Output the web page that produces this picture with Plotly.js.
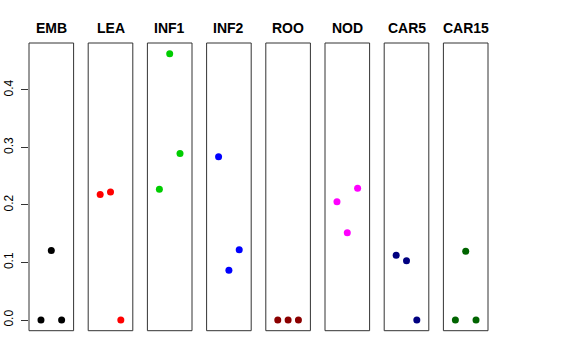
<!DOCTYPE html>
<html><head><meta charset="utf-8">
<script src="https://cdn.plot.ly/plotly-3.0.1.min.js"></script>
<style>html,body{margin:0;padding:0;background:#fff}#c{width:576px;height:360px}</style>
</head><body><div id="c"></div>
<script>
const categories = ["EMB","LEA","INF1","INF2","ROO","NOD","CAR5","CAR15"];
const colors = ["#000000","#FF0000","#00CD00","#0000FF","#8B0000","#FF00FF","#000080","#006400"];
const positions = [1,2,3];
const EMB  = [0, 0.121, 0];
const LEA  = [0.218, 0.2226, 0];
const INF1 = [0.2272, 0.463, 0.2893];
const INF2 = [0.284, 0.0864, 0.1223];
const ROO  = [0, 0, 0];
const NOD  = [0.2058, 0.1519, 0.229];
const CAR5 = [0.1125, 0.1032, 0];
const CAR15= [0, 0.1194, 0];
const series = [EMB, LEA, INF1, INF2, ROO, NOD, CAR5, CAR15];
const yTicks = [0, 0.1, 0.2, 0.3, 0.4];
const yTickLabels = ["0.0","0.1","0.2","0.3","0.4"];

const W = 576, H = 360;
const left0 = 29, step = 59.2, pw = 44.6;
const panelTop = 43, panelBottom = 330.7;
const yDom = [1 - panelBottom/H, 1 - panelTop/H];
const ymax = Math.max(...series.flat());
const yRange = [-0.04*ymax, ymax*1.04];

const traces = [];
const layout = {
  width: W, height: H, margin: {l:0, r:0, t:0, b:0},
  paper_bgcolor: "#fff", plot_bgcolor: "#fff", showlegend: false,
  font: {family: "Liberation Sans, Arial, sans-serif", color: "#000"},
  shapes: [], annotations: []
};
categories.forEach((cat, i) => {
  const k = i === 0 ? "" : String(i+1);
  traces.push({
    x: positions, y: series[i], type: "scatter", mode: "markers",
    xaxis: "x"+k, yaxis: "y"+k,
    marker: {color: colors[i], size: 7}, hoverinfo: "skip", cliponaxis: false
  });
  const x0 = (left0 + step*i)/W, x1 = (left0 + step*i + pw)/W;
  layout["xaxis"+k] = {domain: [x0, x1], range: [-0.16, 4.16], anchor: "y"+k,
    showgrid: false, zeroline: false, showticklabels: false, ticks: "", showline: false, fixedrange: true};
  const ya = {domain: yDom, range: yRange, anchor: "x"+k, showgrid: false, zeroline: false,
    showline: false, fixedrange: true};
  if (i === 0) {
    Object.assign(ya, {tickvals: yTicks, ticktext: yTickLabels, ticks: "outside", ticklen: 7,
      tickcolor: "#333", tickwidth: 1, tickangle: -90, tickfont: {size: 12, color: "#000"}, ticklabelstandoff: 3});
  } else {
    Object.assign(ya, {showticklabels: false, ticks: ""});
  }
  layout["yaxis"+k] = ya;
  layout.shapes.push({type: "rect", xref: "paper", yref: "paper", x0: x0, x1: x1, y0: yDom[0], y1: yDom[1],
    line: {color: "#333", width: 1}, fillcolor: "rgba(0,0,0,0)"});
  layout.annotations.push({text: "<b>"+cat+"</b>", xref: "paper", yref: "paper",
    x: (x0+x1)/2, y: 1 - 28/H, xanchor: "center", yanchor: "middle", showarrow: false,
    font: {size: 14, color: "#000"}});
});
Plotly.newPlot("c", traces, layout, {staticPlot: true, displayModeBar: false});
</script></body></html>
